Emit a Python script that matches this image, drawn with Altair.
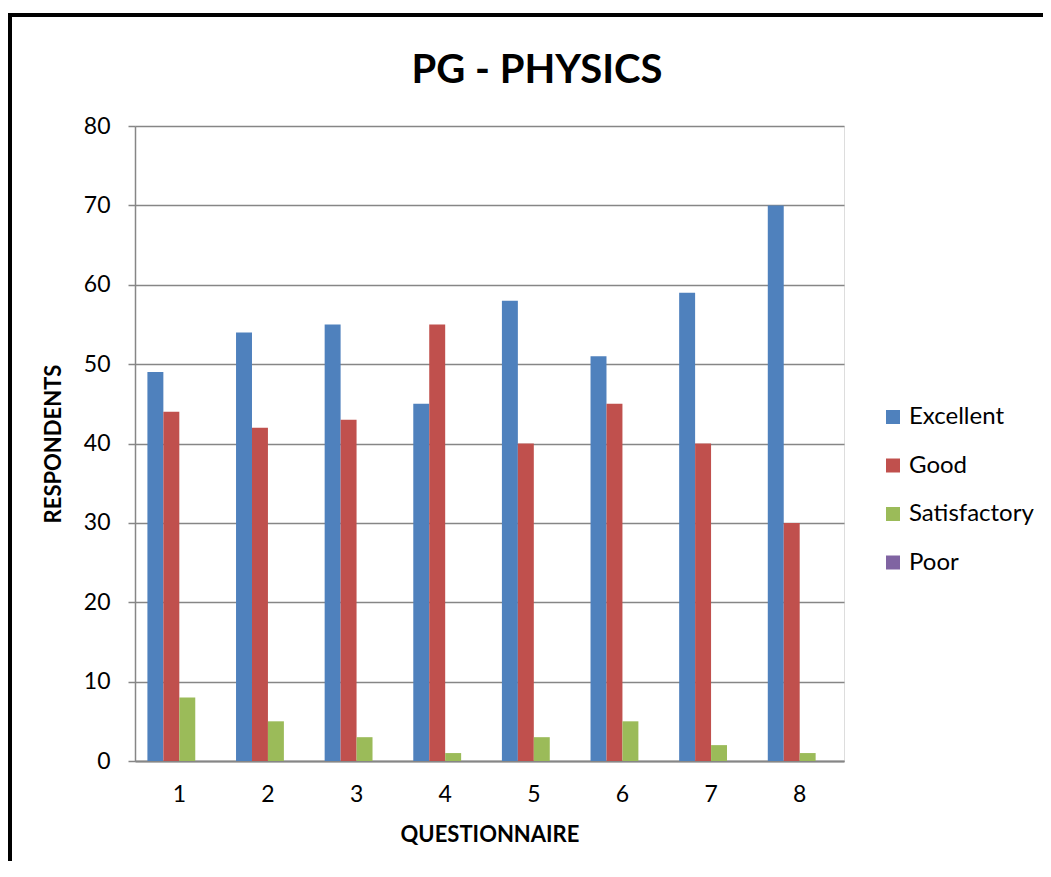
import altair as alt
import pandas as pd

questions = ["1", "2", "3", "4", "5", "6", "7", "8"]
ratings = ["Excellent", "Good", "Satisfactory", "Poor"]
excellent = [49, 54, 55, 45, 58, 51, 59, 70]
good = [44, 42, 43, 55, 40, 45, 40, 30]
satisfactory = [8, 5, 3, 1, 3, 5, 2, 1]
poor = [0, 0, 0, 0, 0, 0, 0, 0]
colors = ["#4F81BD", "#C0504D", "#9BBB59", "#8064A2"]
title_text = "PG - PHYSICS"

series = {"Excellent": excellent, "Good": good, "Satisfactory": satisfactory, "Poor": poor}
rows = []
for r in ratings:
    for q, v in zip(questions, series[r]):
        rows.append({"Question": q, "Rating": r, "Value": v})
df = pd.DataFrame(rows)

FONT = "Lato"
GRAY = "#868686"

bars = alt.Chart(df).mark_bar().encode(
    x=alt.X("Question:N", sort=questions,
            scale=alt.Scale(paddingInner=0.28, paddingOuter=0.14),
            axis=alt.Axis(title="QUESTIONNAIRE", labelAngle=0, ticks=False,
                          labelPadding=22, labelFontSize=23, labelFont=FONT,
                          labelColor="#000000", domainColor=GRAY, domainWidth=2,
                          titleFont=FONT, titleFontSize=22, titleFontWeight="bold",
                          titleColor="#000000", titlePadding=18, grid=False)),
    xOffset=alt.XOffset("Rating:N", sort=ratings,
                        scale=alt.Scale(domain=ratings, paddingInner=0, paddingOuter=0)),
    y=alt.Y("Value:Q",
            scale=alt.Scale(domain=[0, 80], nice=False),
            axis=alt.Axis(title="RESPONDENTS", values=list(range(0, 81, 10)),
                          tickSize=7, tickColor=GRAY, tickWidth=1.5,
                          labelPadding=18, labelFontSize=23, labelFont=FONT,
                          labelColor="#000000", domainColor=GRAY, domainWidth=1.5,
                          gridColor=GRAY, gridWidth=1.5,
                          titleFont=FONT, titleFontSize=22, titleFontWeight="bold",
                          titleColor="#000000", titlePadding=18)),
    color=alt.Color("Rating:N", sort=ratings,
                    scale=alt.Scale(domain=ratings, range=colors),
                    legend=alt.Legend(title=None, orient="none", legendX=746, legendY=279,
                                      symbolType="square", symbolSize=196,
                                      symbolStrokeWidth=0, labelFont=FONT,
                                      labelFontSize=24, labelColor="#000000",
                                      labelOffset=4, rowPadding=24.5)),
)

title = alt.Chart(pd.DataFrame({"t": [title_text]})).mark_text(
    font=FONT, fontSize=40, fontWeight="bold", color="#000000",
    align="center", baseline="alphabetic"
).encode(text="t:N", x=alt.value(402), y=alt.value(-43))

left_border = alt.Chart(df).mark_rule(color="#000000", strokeWidth=4).encode(
    x=alt.value(-125), y=alt.value(-112), y2=alt.value(760)
)
top_border = alt.Chart(df).mark_rule(color="#000000", strokeWidth=3).encode(
    x=alt.value(-127), x2=alt.value(920), y=alt.value(-110.7)
)

chart = alt.layer(bars, title, left_border, top_border).properties(
    width=709,
    height=635,
    autosize=alt.AutoSizeParams(type="none"),
    padding={"left": 127, "top": 118, "right": 199, "bottom": 100},
).configure_view(stroke=None).configure(background="white")

chart.save("out.html", embed_options={"renderer": "svg", "actions": False})
